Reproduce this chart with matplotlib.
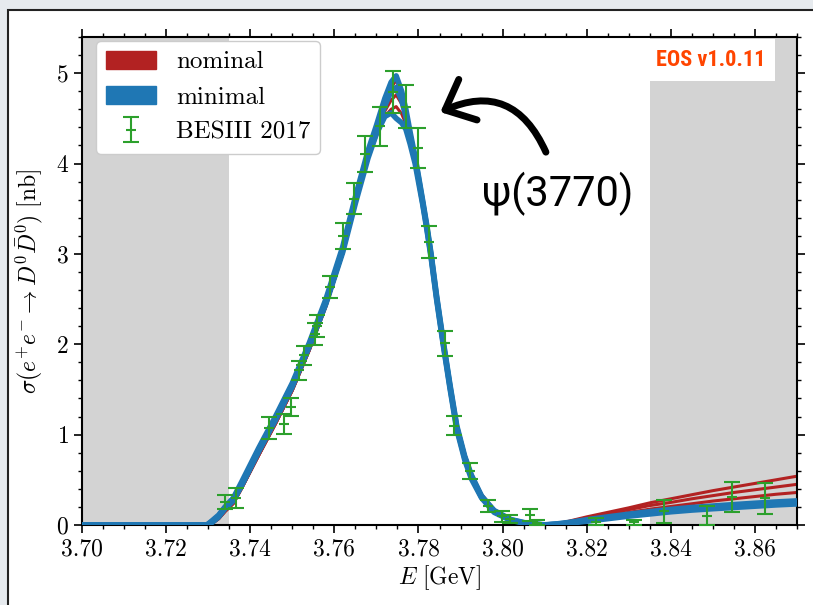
import numpy as np
import matplotlib
matplotlib.use("Agg")
import matplotlib.pyplot as plt
from matplotlib import font_manager
from matplotlib.patches import Patch, Rectangle
from matplotlib.ticker import MultipleLocator, FormatStrFormatter

plt.rcParams['font.family'] = 'serif'
plt.rcParams['font.serif'] = ['cmr10']
plt.rcParams['mathtext.fontset'] = 'cm'
plt.rcParams['axes.formatter.use_mathtext'] = True

E = [3.700, 3.7297, 3.7310, 3.7325, 3.7340, 3.7360, 3.7380, 3.7420, 3.7460, 3.7500,
     3.7540, 3.7580, 3.7620, 3.7650, 3.7680, 3.7700, 3.7720, 3.7735, 3.7747, 3.7760,
     3.7770, 3.7780, 3.7792, 3.7800, 3.7810, 3.7820, 3.7830, 3.7843, 3.7859, 3.7875,
     3.7891, 3.7910, 3.7926, 3.7950, 3.7980, 3.8020, 3.8060, 3.8100, 3.8130, 3.8160,
     3.8200, 3.8250, 3.8300, 3.8350, 3.8400, 3.8450, 3.8500, 3.8550, 3.8600, 3.8650,
     3.8700]

# "minimal" fit samples
min_hi = [0, 0, 0.05, 0.11, 0.20, 0.30, 0.48, 0.85, 1.20, 1.57,
          2.01, 2.50, 3.08, 3.63, 4.14, 4.42, 4.72, 4.90, 4.97, 4.80,
          4.60, 4.35, 4.07, 3.86, 3.59, 3.31, 3.00, 2.54, 2.03, 1.55,
          1.10, 0.76, 0.55, 0.32, 0.16, 0.06, 0.017, 0.002, 0.013, 0.03,
          0.058, 0.09, 0.12, 0.148, 0.173, 0.194, 0.21, 0.226, 0.241, 0.255,
          0.267]
min_mid = [0, 0, 0.04, 0.10, 0.19, 0.28, 0.46, 0.83, 1.18, 1.55,
           1.99, 2.47, 3.05, 3.60, 4.10, 4.38, 4.64, 4.80, 4.84, 4.70,
           4.52, 4.30, 4.05, 3.84, 3.57, 3.29, 2.98, 2.52, 2.01, 1.53,
           1.08, 0.74, 0.53, 0.31, 0.15, 0.055, 0.015, 0.0, 0.01, 0.025,
           0.05, 0.08, 0.11, 0.135, 0.16, 0.18, 0.195, 0.21, 0.225, 0.24,
           0.25]
min_lo = [0, 0, 0.03, 0.09, 0.18, 0.27, 0.44, 0.81, 1.16, 1.53,
          1.97, 2.45, 3.02, 3.56, 4.06, 4.33, 4.52, 4.56, 4.50, 4.45,
          4.38, 4.22, 4.00, 3.80, 3.55, 3.27, 2.96, 2.50, 1.99, 1.51,
          1.06, 0.72, 0.51, 0.30, 0.14, 0.05, 0.013, 0.0, 0.007, 0.02,
          0.042, 0.07, 0.098, 0.122, 0.146, 0.165, 0.18, 0.194, 0.208, 0.222,
          0.233]

# "nominal" fit samples
nom_1 = [0, 0, 0.02, 0.07, 0.15, 0.24, 0.41, 0.77, 1.12, 1.49,
         1.93, 2.42, 3.00, 3.55, 4.05, 4.36, 4.66, 4.84, 4.92, 4.78,
         4.60, 4.38, 4.10, 3.89, 3.63, 3.35, 3.04, 2.58, 2.07, 1.59,
         1.13, 0.79, 0.57, 0.34, 0.17, 0.06, 0.015, 0.0, 0.012, 0.045,
         0.09, 0.14, 0.19, 0.245, 0.29, 0.335, 0.38, 0.42, 0.46, 0.50,
         0.54]
nom_2 = [0, 0, 0.02, 0.07, 0.15, 0.24, 0.41, 0.77, 1.12, 1.49,
         1.93, 2.42, 3.00, 3.55, 4.05, 4.32, 4.58, 4.70, 4.76, 4.66,
         4.52, 4.32, 4.07, 3.88, 3.62, 3.34, 3.03, 2.57, 2.06, 1.58,
         1.12, 0.78, 0.56, 0.33, 0.165, 0.058, 0.014, 0.0, 0.01, 0.04,
         0.08, 0.125, 0.17, 0.215, 0.25, 0.29, 0.325, 0.36, 0.39, 0.42,
         0.45]
nom_3 = [0, 0, 0.02, 0.07, 0.15, 0.24, 0.41, 0.77, 1.12, 1.49,
         1.93, 2.42, 3.00, 3.55, 4.05, 4.30, 4.52, 4.60, 4.63, 4.55,
         4.44, 4.26, 4.04, 3.87, 3.61, 3.33, 3.02, 2.56, 2.05, 1.57,
         1.11, 0.77, 0.55, 0.32, 0.16, 0.056, 0.013, 0.0, 0.008, 0.035,
         0.07, 0.105, 0.14, 0.175, 0.205, 0.235, 0.265, 0.29, 0.315, 0.34,
         0.36]

# BESIII 2017 data
data_E = [3.7341, 3.7366, 3.7445, 3.7480, 3.7498, 3.7516, 3.7529, 3.7553, 3.7558, 3.7589,
          3.7621, 3.7646, 3.7672, 3.7709, 3.7739, 3.7771, 3.7798, 3.7824, 3.7863, 3.7885,
          3.7922, 3.7966, 3.7999, 3.8017, 3.8064, 3.8082, 3.8222, 3.8313, 3.8384, 3.8486,
          3.8546, 3.8623]
data_sigma = [0.254, 0.30, 1.07, 1.12, 1.31, 1.71, 1.88, 2.11, 2.20, 2.63,
              3.20, 3.61, 4.11, 4.41, 4.79, 4.63, 4.17, 3.13, 2.01, 1.10,
              0.60, 0.21, 0.096, 0.066, 0.11, 0.025, 0.037, 0.03, 0.15, 0.10,
              0.31, 0.295]
data_err = [0.075, 0.11, 0.12, 0.11, 0.10, 0.105, 0.105, 0.12, 0.125, 0.12,
            0.145, 0.17, 0.20, 0.22, 0.235, 0.235, 0.22, 0.18, 0.135, 0.105,
            0.087, 0.063, 0.06, 0.045, 0.07, 0.025, 0.035, 0.025, 0.125, 0.105,
            0.17, 0.175]


def narrow_bold_font():
    # pick a condensed bold sans if one is installed
    names = {f.name for f in font_manager.fontManager.ttflist}
    for name in ('Liberation Sans Narrow', 'Roboto Condensed', 'Open Sans Condensed'):
        if name in names:
            return dict(family=[name], fontsize=16)
    for f in font_manager.fontManager.ttflist:
        if f.name == 'DejaVu Sans' and f.stretch == 'condensed' and f.weight in (700, 'bold'):
            return dict(family=['DejaVu Sans'], fontstretch='condensed', fontsize=15)
    return dict(family=['Roboto', 'DejaVu Sans'], fontsize=15)


fig = plt.figure(figsize=(8.13, 6.05), dpi=100)
fig.patch.set_facecolor('#e6eaee')
fig.patches.append(Rectangle((8 / 813, -0.05), 1.2, 1 - 10 / 605 + 0.05,
                             transform=fig.transFigure, facecolor='white',
                             edgecolor='#222222', linewidth=1.5, zorder=-10))
ax = fig.add_axes([82 / 813, 80 / 605, 715 / 813, 488 / 605])
ax.patch.set_alpha(0)

ax.axvspan(3.70, 3.735, color='lightgray', zorder=0, lw=0)
ax.axvspan(3.835, 3.87, color='lightgray', zorder=0, lw=0)

red = '#b22222'
blue = '#1f77b4'
for y in (nom_1, nom_2, nom_3):
    ax.plot(E, y, color=red, lw=2.2, zorder=2)
for y in (min_hi, min_mid, min_lo):
    ax.plot(E, y, color=blue, lw=4, zorder=3, solid_capstyle='butt')

eb = ax.errorbar(data_E, data_sigma, yerr=data_err, fmt='_', color='#2ca02c',
                 ms=7, mew=1.5, elinewidth=1.5, capsize=6, capthick=1.5, zorder=4)

ax.set_xlim(3.70, 3.87)
ax.set_ylim(0, 5.4)
ax.xaxis.set_major_locator(MultipleLocator(0.02))
ax.xaxis.set_minor_locator(MultipleLocator(0.005))
ax.yaxis.set_major_locator(MultipleLocator(1))
ax.yaxis.set_minor_locator(MultipleLocator(0.2))
ax.xaxis.set_major_formatter(FormatStrFormatter('%.2f'))
ax.tick_params(which='both', direction='out', top=True, right=True, labelsize=17)
ax.tick_params(which='major', length=6, width=1.2)
ax.tick_params(which='minor', length=3, width=1)
for s in ax.spines.values():
    s.set_linewidth(1.5)

ax.set_xlabel(r'$E\ [\mathrm{GeV}]$', fontsize=17, labelpad=2)
ax.set_ylabel(r'$\sigma(e^{{+}}e^{{-}} \to D^0\bar{D}^0)\ [\mathrm{nb}]$', fontsize=17, labelpad=8)

handles = [Patch(color=red), Patch(color=blue), eb]
ax.legend(handles, ['nominal', 'minimal', 'BESIII 2017'], loc='upper left',
          bbox_to_anchor=(14 / 715, 1 - 4 / 488), borderaxespad=0,
          fontsize=18, frameon=True, fancybox=True, framealpha=1, handlelength=2.0)

ax.text(0.956, 0.975, 'EOS v1.0.11', transform=ax.transAxes, ha='right', va='top',
        color='orangered', fontweight='bold',
        bbox=dict(facecolor='white', edgecolor='none', pad=7), **narrow_bold_font())

ax.text(3.8131, 3.66, 'ψ(3770)', fontsize=30, family=['Roboto', 'DejaVu Sans'],
        ha='center', va='center')
ax.annotate('', xy=(3.7852, 4.569), xytext=(3.8103, 4.126),
            arrowprops=dict(arrowstyle='->,head_length=0.9,head_width=0.8', lw=5,
                            color='black', connectionstyle='arc3,rad=0.5',
                            mutation_scale=20, shrinkA=0, shrinkB=0))

fig.savefig('out.png', dpi=100, facecolor=fig.get_facecolor())
